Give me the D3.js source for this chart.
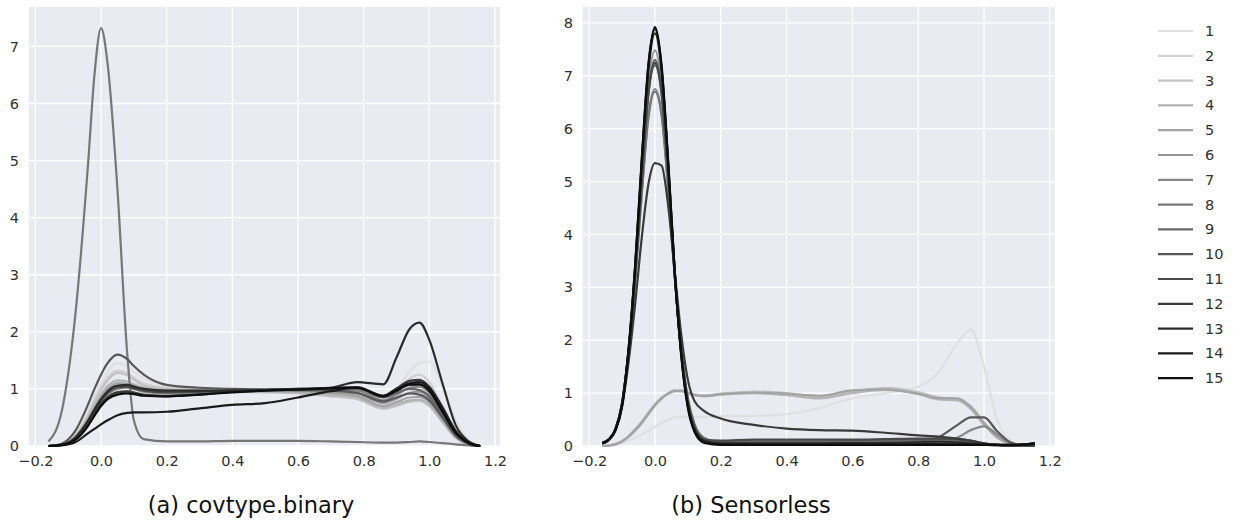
<!DOCTYPE html>
<html><head><meta charset="utf-8">
<script src="https://cdn.jsdelivr.net/npm/d3@7"></script>
<style>
body{margin:0;background:#fff;}
text{font-family:"DejaVu Sans",sans-serif;}
</style>
</head><body>
<svg id="chart" width="1233" height="520"></svg>
<script>
// ---------- data ----------
const seriesLabels = ["1","2","3","4","5","6","7","8","9","10","11","12","13","14","15"];
const xTicks = [-0.2, 0.0, 0.2, 0.4, 0.6, 0.8, 1.0, 1.2];
const yTicksA = [0,1,2,3,4,5,6,7];
const yTicksB = [0,1,2,3,4,5,6,7,8];
const titleA = "(a) covtype.binary";
const titleB = "(b) Sensorless";

// x sample positions (covtype.binary)
const xA = [-0.16,-0.12,-0.08,-0.04,-0.02,0,0.02,0.05,0.08,0.1,0.13,0.2,0.3,0.4,0.5,0.6,0.7,0.78,0.86,0.9,0.94,0.97,1.0,1.04,1.08,1.12,1.155];
const cov01 = [0,0.03,0.2,0.6,0.85,1.1,1.3,1.45,1.4,1.3,1.18,1.06, 1.0,0.98,0.96,0.95,0.93, 0.9,0.85,1.0,1.3,1.46,1.48,1.05,0.45,0.1,0];
const cov02 = [0,0.03,0.18,0.55,0.8,1.02,1.2,1.32,1.28,1.2,1.1,1.02, 0.99,0.97,0.96,0.95,0.92, 0.88,0.78,0.95,1.18,1.25,1.12,0.7,0.3,0.06,0];
const cov03 = [0,0.02,0.17,0.52,0.76,0.98,1.15,1.28,1.24,1.16,1.06,1.0, 0.97,0.95,0.94,0.92,0.87, 0.82,0.65,0.7,0.77,0.79,0.7,0.42,0.14,0.03,0];
const cov04 = [0,0.02,0.15,0.48,0.7,0.9,1.05,1.15,1.13,1.08,1.02,0.98, 0.97,0.96,0.95,0.94,0.9, 0.85,0.68,0.73,0.8,0.81,0.72,0.43,0.15,0.03,0];
const cov05 = [0,0.02,0.14,0.45,0.66,0.86,1.0,1.1,1.09,1.05,1.0,0.96, 0.96,0.97,0.97,0.96,0.93, 0.88,0.7,0.77,0.85,0.86,0.77,0.47,0.17,0.04,0];
const cov06 = [0,0.02,0.13,0.42,0.62,0.8,0.94,1.05,1.05,1.02,0.97,0.93, 0.94,0.96,0.97,0.97,0.95, 0.92,0.75,0.83,0.93,0.95,0.85,0.52,0.19,0.04,0];
const cov07 = [0,0.02,0.12,0.4,0.6,0.78,0.9,1.0,1.02,1.0,0.95,0.92, 0.94,0.96,0.98,0.98,0.98, 0.97,0.8,0.9,1.02,1.04,0.93,0.58,0.22,0.05,0];
const cov08 = [0.08,0.6,2.2,4.9,6.5,7.32,6.7,4.5,1.6,0.45,0.12,0.08, 0.08,0.09,0.09,0.09,0.08, 0.07,0.06,0.06,0.07,0.08,0.07,0.05,0.03,0.01,0];
const cov09 = [0,0.02,0.11,0.37,0.56,0.73,0.85,0.94,0.96,0.94,0.9,0.88, 0.91,0.95,0.98,0.99,1.0, 1.0,0.85,0.93,1.0,0.98,0.87,0.55,0.2,0.05,0];
const cov10 = [0,0.04,0.25,0.72,1.0,1.25,1.45,1.6,1.52,1.4,1.25,1.07, 1.02,1.0,0.99,0.98,0.97, 0.93,0.78,0.85,0.92,0.9,0.8,0.5,0.18,0.04,0];
const cov11 = [0,0.02,0.13,0.42,0.62,0.8,0.93,1.03,1.04,1.01,0.97,0.94, 0.95,0.97,0.99,1.0,1.01, 1.02,0.86,0.97,1.07,1.08,0.97,0.62,0.24,0.05,0];
const cov12 = [0,0.02,0.12,0.38,0.57,0.74,0.85,0.94,0.95,0.93,0.89,0.87, 0.9,0.95,0.98,1.0,1.02, 1.03,0.88,1.01,1.14,1.16,1.04,0.68,0.27,0.06,0];
const cov13 = [0,0.02,0.14,0.44,0.64,0.82,0.96,1.06,1.07,1.04,1.0,0.97, 0.97,0.97,0.98,0.99,1.02, 1.12,1.08,1.55,2.05,2.16,1.86,1.1,0.37,0.08,0];
const cov14 = [0,0.01,0.06,0.22,0.3,0.38,0.45,0.54,0.58,0.59,0.59,0.6, 0.66,0.72,0.75,0.85,0.96, 1.02,0.88,0.99,1.1,1.12,1.02,0.66,0.26,0.06,0];
const cov15 = [0,0.02,0.1,0.35,0.53,0.7,0.82,0.9,0.92,0.91,0.88,0.87, 0.9,0.94,0.97,0.99,1.01, 1.02,0.87,0.97,1.08,1.08,0.97,0.6,0.23,0.05,0];

// x sample positions (Sensorless)
const xB = [-0.16,-0.14,-0.12,-0.1,-0.08,-0.06,-0.04,-0.02,0,0.02,0.04,0.06,0.08,0.1,0.12,0.15,0.2,0.3,0.4,0.5,0.6,0.7,0.8,0.86,0.92,0.96,1.0,1.04,1.08,1.12,1.155];
const sen01 = [0,0.01,0.03,0.06,0.1,0.15,0.22,0.29, 0.36,0.44,0.5,0.54,0.55,0.55,0.55,0.55, 0.56,0.57,0.6,0.72,0.9,1.0,1.12, 1.38,1.95,2.2,1.5,0.5,0.1,0.01,0];
const sen02 = [0,0.01,0.04,0.09,0.18,0.3,0.45,0.62, 0.78,0.9,0.99,1.04,1.04,1.0,0.96,0.95, 0.98,1.02,0.98,0.94,1.04,1.08,1.0, 0.9,0.89,0.72,0.42,0.17,0.05,0.01,0];
const sen03 = [0,0.01,0.03,0.08,0.17,0.29,0.43,0.6, 0.76,0.89,0.98,1.03,1.03,1.0,0.97,0.96, 0.99,1.03,1.0,0.93,1.02,1.1,1.02, 0.92,0.87,0.75,0.45,0.18,0.05,0.01,0];
const sen04 = [0,0.01,0.04,0.09,0.19,0.32,0.46,0.63, 0.79,0.91,1.0,1.05,1.05,1.01,0.97,0.95, 0.97,1.0,0.96,0.9,1.0,1.06,0.98, 0.88,0.86,0.7,0.4,0.16,0.04,0.01,0];
const sen05 = [0,0.01,0.03,0.09,0.18,0.3,0.44,0.61, 0.77,0.9,0.99,1.04,1.04,1.0,0.96,0.94, 0.98,1.01,0.99,0.95,1.05,1.07,0.99, 0.91,0.9,0.74,0.43,0.17,0.05,0.01,0];
const sen06 = [0.05,0.11,0.3,0.78,1.8,3.3,5.15,6.85, 7.48,6.85,5.2,3.25,1.75,0.8,0.33,0.1, 0.03,0.02,0.02,0.02,0.02,0.02,0.02, 0.02,0.02,0.02,0.02,0.01,0.01,0.02,0.04];
const sen07 = [0.05,0.12,0.32,0.82,1.8,3.15,4.8,6.25, 6.75,6.3,4.9,3.2,1.8,0.88,0.4,0.14, 0.06,0.05,0.05,0.05,0.06,0.06,0.06, 0.07,0.16,0.3,0.37,0.22,0.06,0.01,0];
const sen08 = [0.05,0.12,0.32,0.82,1.8,3.15,4.78,6.2, 6.7,6.25,4.88,3.2,1.82,0.9,0.42,0.15, 0.06,0.04,0.04,0.04,0.04,0.05,0.05, 0.05,0.05,0.04,0.03,0.02,0.01,0.01,0.02];
const sen09 = [0.06,0.13,0.33,0.8,1.8,3.25,5.05,6.7, 7.3,6.75,5.15,3.25,1.78,0.82,0.35,0.12, 0.08,0.09,0.09,0.09,0.1,0.1,0.11, 0.11,0.1,0.07,0.03,0.01,0.01,0.02,0.03];
const sen10 = [0.05,0.12,0.32,0.8,1.8,3.25,5.0,6.65, 7.2,6.65,5.1,3.25,1.8,0.85,0.37,0.12, 0.05,0.05,0.05,0.05,0.05,0.06,0.08, 0.16,0.4,0.54,0.54,0.28,0.07,0.01,0];
const sen11 = [0.06,0.12,0.32,0.8,1.8,3.25,5.02,6.68, 7.25,6.7,5.12,3.25,1.78,0.83,0.35,0.12, 0.1,0.12,0.12,0.12,0.12,0.13,0.14, 0.14,0.13,0.1,0.05,0.02,0.01,0.02,0.04];
const sen12 = [0.05,0.12,0.3,0.75,1.6,2.7,3.95,4.95, 5.35,5.3,4.55,3.3,2.1,1.25,0.85,0.66, 0.52,0.4,0.33,0.3,0.29,0.25,0.2, 0.18,0.14,0.1,0.05,0.02,0.01,0.01,0.02];
const sen13 = [0.06,0.13,0.32,0.8,1.85,3.4,5.35,7.1, 7.8,7.1,5.35,3.3,1.75,0.78,0.32,0.1, 0.05,0.05,0.05,0.05,0.06,0.06,0.07, 0.08,0.07,0.05,0.03,0.02,0.01,0.02,0.04];
const sen14 = [0.05,0.12,0.3,0.78,1.85,3.45,5.45,7.2, 7.88,7.15,5.35,3.3,1.72,0.75,0.3,0.08, 0.03,0.02,0.02,0.02,0.02,0.02,0.03, 0.03,0.03,0.03,0.02,0.02,0.02,0.03,0.05];
const sen15 = [0.06,0.12,0.3,0.75,1.8,3.4,5.4,7.2, 7.92,7.2,5.4,3.3,1.7,0.72,0.27,0.06, 0.02,0.02,0.02,0.02,0.02,0.02,0.02, 0.02,0.02,0.02,0.02,0.02,0.02,0.03,0.05];

const covtypeSeries = [cov01,cov02,cov03,cov04,cov05,cov06,cov07,cov08,cov09,cov10,cov11,cov12,cov13,cov14,cov15];
const sensorlessSeries = [sen01,sen02,sen03,sen04,sen05,sen06,sen07,sen08,sen09,sen10,sen11,sen12,sen13,sen14,sen15];

// ---------- drawing ----------
const svg = d3.select("#chart");
svg.append("rect").attr("width",1233).attr("height",520).attr("fill","#ffffff");

const color = d3.scaleLinear().domain([0, seriesLabels.length-1])
  .range(["#e0e0e0", "#0d0d0d"]).interpolate(d3.interpolateRgb);

const TOP = 7, BOTTOM = 446;
const fmt = d3.format(".1f");
const TICK_FS = 14.5;

function panel(xs, seriesList, yMax, yTicks, x0, x1, title, titleX, yLabelX) {
  const x = d3.scaleLinear().domain([-0.22, 1.215]).range([x0, x1]);
  const y = d3.scaleLinear().domain([0, yMax]).range([BOTTOM, TOP]);
  const g = svg.append("g");
  g.append("rect").attr("x", x0).attr("y", TOP)
    .attr("width", x1 - x0).attr("height", BOTTOM - TOP).attr("fill", "#eaeaf2");
  // grid
  g.selectAll(".vg").data(xTicks).join("line")
    .attr("x1", d => x(d)).attr("x2", d => x(d))
    .attr("y1", TOP).attr("y2", BOTTOM)
    .attr("stroke", "#ffffff").attr("stroke-width", 1.3);
  g.selectAll(".hg").data(yTicks).join("line")
    .attr("x1", x0).attr("x2", x1)
    .attr("y1", d => y(d)).attr("y2", d => y(d))
    .attr("stroke", "#ffffff").attr("stroke-width", 1.3);
  // axes labels
  const xAxis = d3.axisBottom(x).tickValues(xTicks).tickFormat(fmt).tickSize(0).tickPadding(10);
  const ax = g.append("g").attr("transform", `translate(0,${BOTTOM})`).call(xAxis);
  ax.select(".domain").remove();
  ax.selectAll("text").attr("font-size", TICK_FS).attr("fill", "#303030")
    .attr("font-family", "DejaVu Sans");
  const yAxis = d3.axisLeft(y).tickValues(yTicks).tickFormat(d3.format("d")).tickSize(0).tickPadding(x0 - yLabelX);
  const ay = g.append("g").attr("transform", `translate(${x0},0)`).call(yAxis);
  ay.select(".domain").remove();
  ay.selectAll("text").attr("font-size", TICK_FS).attr("fill", "#303030")
    .attr("font-family", "DejaVu Sans");
  // curves
  const line = d3.line().x((d, i) => x(xs[i])).y(d => y(d)).curve(d3.curveMonotoneX);
  seriesList.forEach((vals, i) => {
    g.append("path").datum(vals).attr("d", line)
      .attr("fill", "none").attr("stroke", color(i))
      .attr("stroke-width", 2.2).attr("stroke-linejoin", "round");
  });
  svg.append("text").attr("x", titleX).attr("y", 513)
    .attr("text-anchor", "middle").attr("font-size", 22.5)
    .attr("fill", "#111").text(title);
}

panel(xA, covtypeSeries, 7.69, yTicksA, 28.8, 499.9, titleA, 251, 19);
panel(xB, sensorlessSeries, 8.3, yTicksB, 582.6, 1054.7, titleB, 751, 573);

// legend
const lg = svg.append("g");
seriesLabels.forEach((lab, i) => {
  const yy = 31 + i * 24.8;
  lg.append("line").attr("x1", 1158).attr("x2", 1193).attr("y1", yy).attr("y2", yy)
    .attr("stroke", color(i)).attr("stroke-width", 2.2);
  lg.append("text").attr("x", 1205).attr("y", yy).attr("dy", "0.35em")
    .attr("font-size", TICK_FS).attr("fill", "#303030").text(lab);
});
</script>
</body></html>
